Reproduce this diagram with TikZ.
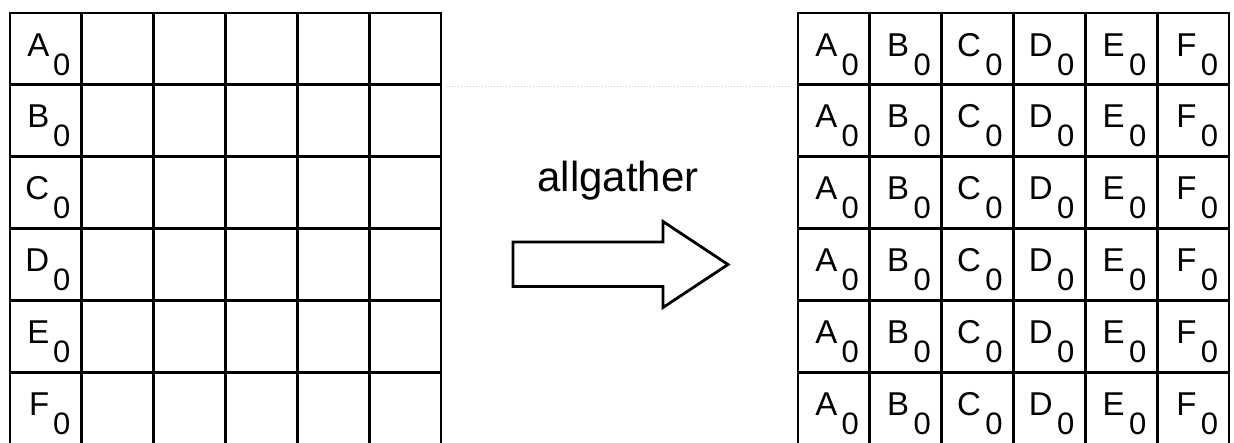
\documentclass[tikz,border=0pt]{standalone}
\usepackage{fontspec}
\setmainfont{Liberation Sans}
\begin{document}
\begin{tikzpicture}[x=1pt,y=-1pt,
  gridline/.style={line width=2.9pt, line cap=rect},
  lab/.style={font=\fontsize{33}{33}\selectfont, inner sep=0pt, anchor=base east},
  sub/.style={font=\fontsize{31}{31}\selectfont, inner sep=0pt, anchor=base west},
  bigarrow/.style={line width=2.8pt, line join=miter},
  faint/.style={draw=gray!45, dotted, line width=1pt}]
\useasboundingbox (0,0) rectangle (1234,442);
\def\cw{71.83}
% left grid
\foreach \i in {0,...,6} {
  \draw[gridline] (10+\i*\cw,13) -- (10+\i*\cw,444);
  \draw[gridline] (10,13+\i*\cw) -- (441,13+\i*\cw);
}
% right grid
\foreach \i in {0,...,6} {
  \draw[gridline] (798+\i*\cw,13) -- (798+\i*\cw,444);
  \draw[gridline] (798,13+\i*\cw) -- (1229,13+\i*\cw);
}
% left labels
\foreach \L [count=\r from 0] in {A,B,C,D,E,F} {
  \node[lab] (l\L) at (49.5, 13+\r*\cw+43) {\L};
  \node[sub] (l\L s) at (53, 13+\r*\cw+62) {0};
}
% right labels
\foreach \r in {0,...,5} {
  \foreach \L [count=\c from 0] in {A,B,C,D,E,F} {
    \node[lab] (r\r\L) at (798+\c*\cw+39.5, 13+\r*\cw+43) {\L};
    \node[sub] (r\r\L s) at (798+\c*\cw+43.5, 13+\r*\cw+62) {0};
  }
}
% faint dotted line
\coordinate (d1) at (446,86);
\coordinate (d2) at (794,86);
\draw[faint] (d1) -- (d2);
% label and arrow
\node[font=\fontsize{42}{42}\selectfont, inner sep=0pt, anchor=base] (ag) at (618,191) {allgather};
\draw[bigarrow] (513,242) -- (663,242) -- (663,221.5) -- (728,264.5) -- (663,307.5) -- (663,286.5) -- (513,286.5) -- cycle;
\end{tikzpicture}
\end{document}
